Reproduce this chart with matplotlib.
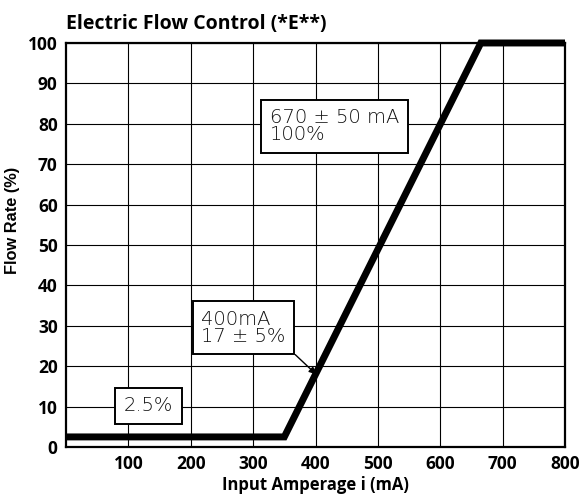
import matplotlib
matplotlib.use("Agg")
import matplotlib.pyplot as plt

# curve: flow rate vs input amperage
current_ma = [0, 350, 665, 800]
flow_pct = [2.5, 2.5, 100, 100]

x_ticks = [100, 200, 300, 400, 500, 600, 700, 800]
y_ticks = [0, 10, 20, 30, 40, 50, 60, 70, 80, 90, 100]

title = "Electric Flow Control (*E**)"
xlabel = "Input Amperage i (mA)"
ylabel = "Flow Rate (%)"

fig = plt.figure(figsize=(5.82, 4.94), dpi=100)
ax = fig.add_axes([0.1134, 0.0951, 0.8574, 0.8179])

ax.set_xlim(0, 800)
ax.set_ylim(0, 100)
ax.set_xticks(x_ticks)
ax.set_yticks(y_ticks)
ax.grid(True, color="black", linewidth=0.8)
ax.set_axisbelow(True)
ax.tick_params(length=0, pad=6)
for lab in ax.get_xticklabels() + ax.get_yticklabels():
    lab.set_fontfamily("Open Sans")
    lab.set_fontweight("bold")
    lab.set_fontsize(12.5)
for s in ax.spines.values():
    s.set_linewidth(1.6)

ax.plot(current_ma, flow_pct, color="black", linewidth=5, clip_on=False,
        solid_capstyle="butt", solid_joinstyle="miter", zorder=3)

ax.set_xlabel(xlabel, labelpad=2, family="Open Sans", weight="bold", fontsize=12)
ax.set_ylabel(ylabel, family="Liberation Sans", weight="bold", fontsize=11.8)
ax.yaxis.set_label_coords(-0.092, 0.562)
ax.set_title(title, loc="left", family="Open Sans", weight="bold",
             fontsize=14, pad=10)

note = dict(family="DejaVu Sans", weight="light", fontsize=14, color="#111111")
box = dict(boxstyle="square,pad=0.45", facecolor="white", edgecolor="black",
           linewidth=1.4)

ax.text(132, 10.2, "2.5%", ha="center", va="center", bbox=box, zorder=4, **note)
ax.annotate("400mA\n17 ± 5%", xy=(401, 18), xytext=(217, 29.5),
            ha="left", va="center", linespacing=0.85, bbox=box, zorder=4,
            arrowprops=dict(arrowstyle="-|>", color="black", lw=1,
                            relpos=(1, 0), shrinkA=0, shrinkB=0,
                            mutation_scale=10),
            **note)
ax.text(327, 79.4, "670 ± 50 mA\n100%", ha="left", va="center",
        linespacing=0.85, bbox=box, zorder=4, **note)

fig.savefig("out.png", dpi=100)
